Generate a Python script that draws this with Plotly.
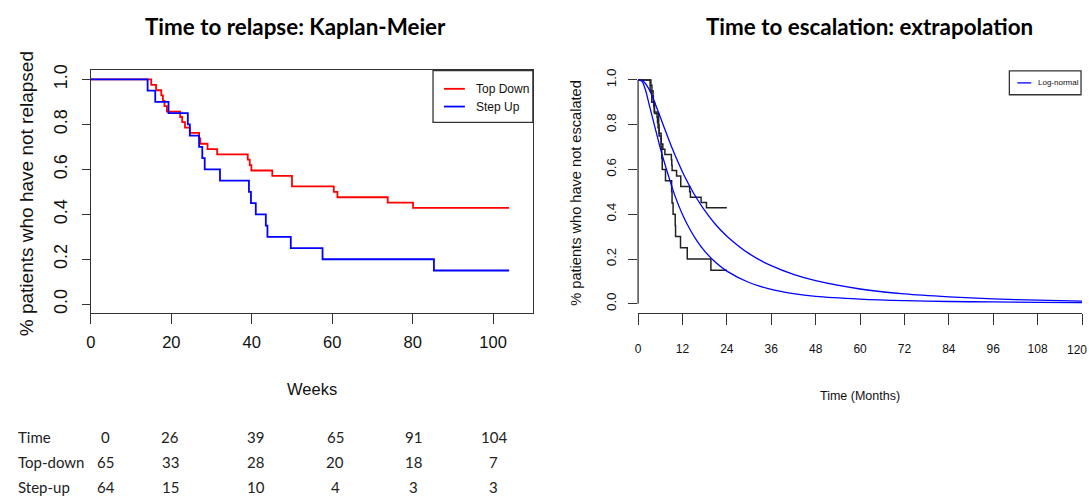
import plotly.graph_objects as go

# ---------------- data ----------------
# Left panel: Kaplan-Meier, time in weeks
td_weeks = [0, 15.0, 16.2, 17.5, 17.9, 18.3, 18.9, 22.2, 22.7, 23.4, 24.6, 26.9, 27.2,
            29.0, 31.4, 39.0, 39.5, 39.9, 45.1, 50.0, 60.4, 61.3, 73.8, 80.1, 104]
td_surv = [1.0, 0.976, 0.952, 0.929, 0.905, 0.881, 0.857, 0.833, 0.810, 0.786, 0.762, 0.738,
           0.714, 0.690, 0.667, 0.643, 0.619, 0.595, 0.571, 0.524, 0.500, 0.476, 0.452,
           0.429, 0.429]
su_weeks = [0, 14.1, 16.0, 19.3, 24.1, 24.6, 26.9, 27.7, 28.3, 32.1, 39.3, 39.8, 41.0,
            43.5, 43.9, 49.7, 57.6, 85.3, 104]
su_surv = [1.0, 0.95, 0.90, 0.85, 0.80, 0.75, 0.70, 0.65, 0.60, 0.55, 0.50, 0.45, 0.40,
           0.35, 0.30, 0.25, 0.20, 0.15, 0.15]

# Right panel: fitted log-normal curves, time in months
ln_months = [0, 1, 2, 3, 4, 5, 6, 7, 8, 9, 10, 12, 14, 16, 18, 21, 24, 30, 36, 42, 48,
             60, 72, 84, 96, 108, 120]
ln_topdown = [1.0, 0.998, 0.984, 0.957, 0.920, 0.878, 0.834, 0.790, 0.746, 0.704, 0.663,
              0.589, 0.524, 0.467, 0.417, 0.353, 0.302, 0.224, 0.170, 0.131, 0.103, 0.066,
              0.044, 0.031, 0.022, 0.016, 0.012]
ln_stepup = [1.0, 0.995, 0.955, 0.890, 0.825, 0.760, 0.695, 0.638, 0.583, 0.530, 0.481,
             0.399, 0.333, 0.279, 0.235, 0.184, 0.146, 0.095, 0.064, 0.045, 0.033, 0.021,
             0.014, 0.010, 0.008, 0.006, 0.005]
WEEKS_PER_MONTH = 52 / 12

# Number at risk table
risk_times = [0, 26, 39, 65, 91, 104]
risk_topdown = [65, 33, 28, 20, 18, 7]
risk_stepup = [64, 15, 10, 4, 3, 3]
row_labels = ["Time", "Top-down", "Step-up"]

left_xticks = [0, 20, 40, 60, 80, 100]
right_xticks = [0, 12, 24, 36, 48, 60, 72, 84, 96, 108, 120]
yticks = [0.0, 0.2, 0.4, 0.6, 0.8, 1.0]
ytick_text = ["0.0", "0.2", "0.4", "0.6", "0.8", "1.0"]

# ---------------- layout helpers ----------------
W, H = 1089, 497


def px(x):
    return x / W


def py(y):
    return (H - y) / H


SANS = "Liberation Sans, Arial, sans-serif"
TITLE = "Lato, Carlito, Calibri, sans-serif"
AX = "#333333"

fig = go.Figure()

fig.add_trace(go.Scatter(x=td_weeks, y=td_surv, mode="lines", name="Top Down",
                         line=dict(color="#ff0000", width=1.8, shape="hv"),
                         xaxis="x", yaxis="y", showlegend=False))
fig.add_trace(go.Scatter(x=su_weeks, y=su_surv, mode="lines", name="Step Up",
                         line=dict(color="#0000ff", width=1.8, shape="hv"),
                         xaxis="x", yaxis="y", showlegend=False))

td_months = [w / WEEKS_PER_MONTH for w in td_weeks]
su_months = [w / WEEKS_PER_MONTH for w in su_weeks]
fig.add_trace(go.Scatter(x=td_months, y=td_surv, mode="lines", name="Top Down KM",
                         line=dict(color="#222222", width=1.5, shape="hv"),
                         xaxis="x2", yaxis="y2", showlegend=False))
fig.add_trace(go.Scatter(x=su_months, y=su_surv, mode="lines", name="Step Up KM",
                         line=dict(color="#222222", width=1.5, shape="hv"),
                         xaxis="x2", yaxis="y2", showlegend=False))
fig.add_trace(go.Scatter(x=ln_months, y=ln_topdown, mode="lines", name="Log-normal",
                         line=dict(color="#0000ff", width=1.3, shape="spline", smoothing=0.8),
                         xaxis="x2", yaxis="y2", showlegend=False))
fig.add_trace(go.Scatter(x=ln_months, y=ln_stepup, mode="lines", name="Log-normal",
                         line=dict(color="#0000ff", width=1.3, shape="spline", smoothing=0.8),
                         xaxis="x2", yaxis="y2", showlegend=False))

fig.update_layout(
    width=W, height=H, autosize=False,
    margin=dict(l=0, r=0, t=0, b=0),
    paper_bgcolor="white", plot_bgcolor="white",
    xaxis=dict(domain=[px(86.3), px(530.3)], range=[0, 109.9], anchor="y",
               tickvals=left_xticks, ticks="outside", ticklen=10, tickwidth=1.2,
               tickcolor=AX, showline=True, mirror=True, linecolor=AX, linewidth=1.3,
               showgrid=False, zeroline=False, ticklabelstandoff=4,
               tickfont=dict(family=SANS, size=16.5, color="#111")),
    yaxis=dict(domain=[py(311.6), py(65.4)], range=[-0.04, 1.04], anchor="x",
               tickvals=yticks, ticktext=ytick_text, tickangle=-90,
               ticks="outside", ticklen=8, tickwidth=1.2, tickcolor=AX,
               showline=True, mirror=True, linecolor=AX, linewidth=1.3,
               showgrid=False, zeroline=False, ticklabelstandoff=8,
               tickfont=dict(family=SANS, size=18, color="#111")),
    xaxis2=dict(domain=[px(636), px(1082)], range=[0, 120], anchor="y2",
                tickvals=right_xticks, ticks="outside", ticklen=11, tickwidth=1.2,
                tickcolor=AX, showline=True, linecolor=AX, linewidth=1.3,
                showgrid=False, zeroline=False, ticklabelstandoff=14,
                tickfont=dict(family=SANS, size=12, color="#111")),
    yaxis2=dict(domain=[py(311.1), py(65.9)], range=[-0.04, 1.04], anchor="x2",
                tickvals=yticks, ticktext=ytick_text, tickangle=-90,
                ticks="outside", ticklen=9, tickwidth=1.2, tickcolor=AX,
                showline=False, showgrid=False, zeroline=False, ticklabelstandoff=7,
                tickfont=dict(family=SANS, size=13.4, color="#111")),
)

shapes = []
# right panel y axis line spanning 0..1 only (R style)
shapes.append(dict(type="line", xref="paper", yref="y2", x0=px(636), x1=px(636),
                   y0=0, y1=1, line=dict(color=AX, width=1.3)))
# left legend
shapes.append(dict(type="rect", xref="paper", yref="paper", x0=px(430), x1=px(530.3),
                   y0=py(118), y1=py(65.4), line=dict(color=AX, width=1.3),
                   fillcolor="white"))
shapes.append(dict(type="line", xref="paper", yref="paper", x0=px(441), x1=px(462),
                   y0=py(84), y1=py(84), line=dict(color="#ff0000", width=1.8)))
shapes.append(dict(type="line", xref="paper", yref="paper", x0=px(441), x1=px(462),
                   y0=py(102), y1=py(102), line=dict(color="#0000ff", width=1.8)))
# right legend
shapes.append(dict(type="rect", xref="paper", yref="paper", x0=px(1009), x1=px(1081),
                   y0=py(90), y1=py(65.9), line=dict(color=AX, width=1.3),
                   fillcolor="white"))
shapes.append(dict(type="line", xref="paper", yref="paper", x0=px(1017), x1=px(1031),
                   y0=py(78), y1=py(78), line=dict(color="#0000ff", width=1.3)))
fig.update_layout(shapes=shapes)

ann = []


def text(x, y, s, size, family, xanchor="center", angle=0, color="#111"):
    ann.append(dict(x=px(x), y=py(y), xref="paper", yref="paper", text=s,
                    showarrow=False, xanchor=xanchor, yanchor="middle",
                    textangle=angle, font=dict(family=family, size=size, color=color)))


text(292, 21, "<b>Time to relapse: Kaplan-Meier</b>", 22.4, TITLE, color="#000")
text(868.5, 21, "<b>Time to escalation: extrapolation</b>", 22.4, TITLE, color="#000")
text(21, 190, "% patients who have not relapsed", 19, SANS, angle=-90)
text(574, 189, "% patients who have not escalated", 14.6, SANS, angle=-90)
text(308, 388, "Weeks", 16.5, SANS)
text(859, 396, "Time (Months)", 12.5, SANS)
text(471, 84, "Top Down", 12, SANS, xanchor="left")
text(471, 102, "Step Up", 12, SANS, xanchor="left")
text(1036, 78, "Log-normal", 8, SANS, xanchor="left")
# last x tick label of the right panel sits at the page edge (hidden by plotly's overflow rule)
ann.append(dict(x=1.0, y=py(349), xref="paper", yref="paper", text=str(right_xticks[-1]),
                showarrow=False, xanchor="right", yanchor="middle",
                font=dict(family=SANS, size=12, color="#111")))

# number-at-risk table
col_x = [101, 166, 252, 332, 410, 491]
row_y = [437, 463, 488]
rows = [risk_times, risk_topdown, risk_stepup]
for label, vals, yy in zip(row_labels, rows, row_y):
    text(11, yy, label, 15, TITLE, xanchor="left", color="#222")
    for v, xx in zip(vals, col_x):
        text(xx, yy, str(v), 15, TITLE, color="#222")

fig.update_layout(annotations=ann)

fig.write_html(
    "out.html",
    config={"displayModeBar": False},
    post_script="document.body.style.margin='0';"
                "document.documentElement.style.overflow='hidden';",
)
